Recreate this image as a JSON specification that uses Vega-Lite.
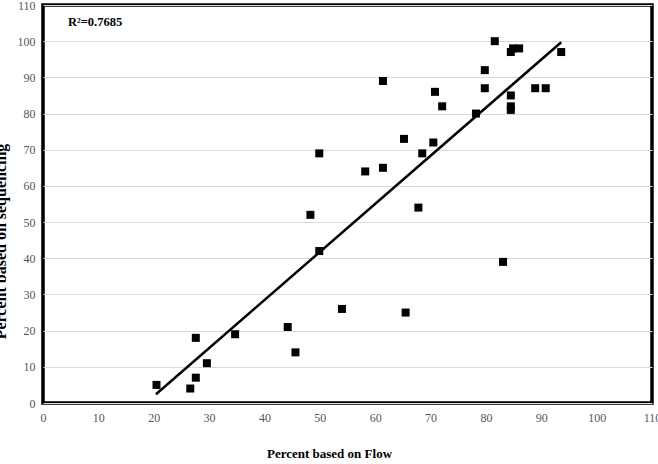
{
  "$schema": "https://vega.github.io/schema/vega-lite/v6.json",
  "width": 609,
  "height": 398,
  "autosize": {"type": "none"},
  "padding": {"left": 43, "top": 5, "right": 6, "bottom": 61},
  "background": "white",
  "config": {
    "view": {"stroke": "black", "strokeWidth": 3.5},
    "font": "Liberation Serif",
    "axis": {
      "labelFont": "Liberation Serif",
      "labelFontSize": 12,
      "labelColor": "#555555",
      "labelOverlap": false,
      "titleFont": "Liberation Serif",
      "titleFontWeight": "bold",
      "titleColor": "black",
      "domain": false,
      "ticks": false
    }
  },
  "datasets": {
    "points": [
      {"flow": 20.5, "seq": 5}, {"flow": 26.6, "seq": 4}, {"flow": 27.6, "seq": 7},
      {"flow": 27.6, "seq": 18}, {"flow": 29.6, "seq": 11}, {"flow": 34.7, "seq": 19},
      {"flow": 44.2, "seq": 21}, {"flow": 45.6, "seq": 14}, {"flow": 48.3, "seq": 52},
      {"flow": 49.9, "seq": 42}, {"flow": 49.9, "seq": 69}, {"flow": 54, "seq": 26},
      {"flow": 58.2, "seq": 64}, {"flow": 61.4, "seq": 65}, {"flow": 61.4, "seq": 89},
      {"flow": 65.2, "seq": 73}, {"flow": 65.5, "seq": 25}, {"flow": 67.8, "seq": 54},
      {"flow": 68.5, "seq": 69}, {"flow": 70.5, "seq": 72}, {"flow": 70.8, "seq": 86},
      {"flow": 72.1, "seq": 82}, {"flow": 78.2, "seq": 80}, {"flow": 79.8, "seq": 92},
      {"flow": 79.8, "seq": 87}, {"flow": 81.6, "seq": 100}, {"flow": 83.1, "seq": 39},
      {"flow": 84.5, "seq": 97}, {"flow": 84.5, "seq": 85}, {"flow": 84.5, "seq": 82},
      {"flow": 84.5, "seq": 81}, {"flow": 84.9, "seq": 98}, {"flow": 86, "seq": 98},
      {"flow": 88.9, "seq": 87}, {"flow": 90.8, "seq": 87}, {"flow": 93.6, "seq": 97}
    ],
    "fit": [
      {"flow": 20.4, "seq": 2.4}, {"flow": 93.6, "seq": 99.7}
    ],
    "label": [
      {"flow": 4.5, "seq": 105.4, "text": "R²=0.7685"}
    ]
  },
  "encoding": {
    "x": {"field": "flow", "type": "quantitative",
          "scale": {"domain": [0, 110], "nice": false, "zero": false},
          "axis": {"title": "Percent based on Flow", "values": [0,10,20,30,40,50,60,70,80,90,100,110],
                   "grid": false, "labelPadding": 9, "titlePadding": 24, "titleFontSize": 13,
                   "titleX": 286, "labelFlush": false}},
    "y": {"field": "seq", "type": "quantitative",
          "scale": {"domain": [0, 110], "nice": false, "zero": false},
          "axis": {"title": "Percent based on sequencing", "values": [0,10,20,30,40,50,60,70,80,90,100,110],
                   "grid": true, "gridColor": "#d9d9d9", "gridWidth": 1, "labelPadding": 8,
                   "titleFontSize": 16, "titleX": -38, "titleY": 236, "titleBaseline": "alphabetic",
                   "labelFlush": false}}
  },
  "layer": [
    {
      "data": {"name": "points"},
      "mark": {"type": "point", "shape": "square", "filled": true, "size": 64, "color": "black", "opacity": 1}
    },
    {
      "data": {"name": "fit"},
      "mark": {"type": "line", "color": "black", "strokeWidth": 2.5}
    },
    {
      "data": {"name": "label"},
      "mark": {"type": "text", "align": "left", "baseline": "middle", "fontWeight": "bold", "fontSize": 12.5, "font": "Liberation Serif", "color": "black"},
      "encoding": {
        "text": {"field": "text"}
      }
    }
  ]
}
